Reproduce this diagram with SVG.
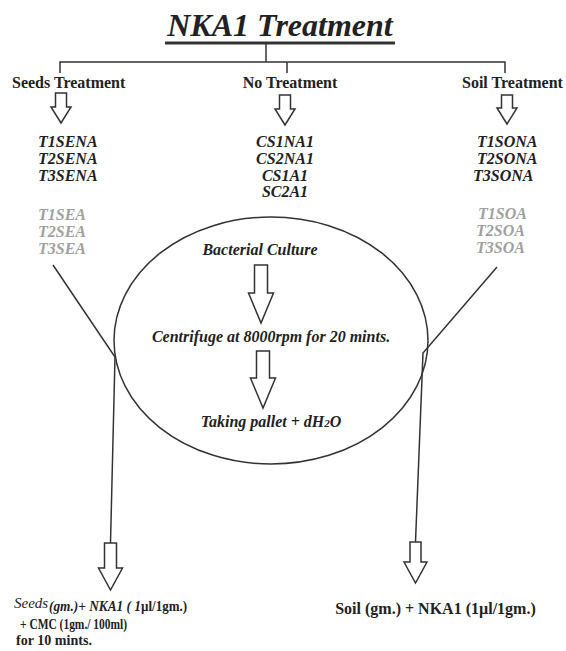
<svg xmlns="http://www.w3.org/2000/svg" width="566" height="651" viewBox="0 0 566 651">
<style>
  .t { font-family: "Liberation Serif", "Times New Roman", serif; fill: #222; }
  .bi { font-weight: bold; font-style: italic; }
  .b { font-weight: bold; }
  .g { fill: #a0a0a0; }
  .ln { stroke: #333; stroke-width: 1.5; fill: none; }
  .ar { stroke: #333; stroke-width: 1.5; fill: #fff; stroke-linejoin: miter; }
</style>
<rect width="566" height="651" fill="#fff"/>

<g id="title">
  <text class="t bi" x="280" y="36" font-size="32" text-anchor="middle">NKA1 Treatment</text>
  <line x1="165" y1="43" x2="395" y2="43" stroke="#333" stroke-width="3"/>
</g>

<g id="connectors">
  <polyline class="ln" points="266,44 266,62"/>
  <polyline class="ln" points="60,73 60,62 505,62 505,73"/>
  <line class="ln" x1="287" y1="62" x2="287" y2="73"/>
  <polyline class="ln" points="53,265 115,357 110.5,543"/>
  <polyline class="ln" points="497,267 423,353 415.5,542"/>
  <polygon class="ar" points="55.5,93 66.5,93 66.5,107 71,107 61,123 51,107 55.5,107"/>
  <polygon class="ar" points="279.5,95 290.5,95 290.5,109 295,109 285,125 275,109 279.5,109"/>
  <polygon class="ar" points="501.5,95 512.5,95 512.5,108 517,108 507,124 497,108 501.5,108"/>
  <polygon class="ar" points="254.5,265 267.5,265 267.5,293 273.5,293 261,323 248.5,293 254.5,293"/>
  <polygon class="ar" points="256.5,351 269.5,351 269.5,378 275.5,378 263,408 250.5,378 256.5,378"/>
  <polygon class="ar" points="104.5,543 116.5,543 116.5,568 122.5,568 110.5,590 98.5,568 104.5,568"/>
  <polygon class="ar" points="410,542 421,542 421,562 427,562 415.5,583 404,562 410,562"/>
</g>

<g id="seeds-treatment">
  <text class="t b" x="12" y="88" font-size="16">Seeds Treatment</text>
  <text class="t bi" x="38" y="147" font-size="16">T1SENA</text>
  <text class="t bi" x="38" y="164" font-size="16">T2SENA</text>
  <text class="t bi" x="38" y="181" font-size="16">T3SENA</text>
  <text class="t bi g" x="38" y="220" font-size="16">T1SEA</text>
  <text class="t bi g" x="38" y="237" font-size="16">T2SEA</text>
  <text class="t bi g" x="38" y="254" font-size="16">T3SEA</text>
</g>

<g id="no-treatment">
  <text class="t b" x="290" y="88" font-size="16" text-anchor="middle">No Treatment</text>
  <text class="t bi" x="285" y="147" font-size="16" text-anchor="middle">CS1NA1</text>
  <text class="t bi" x="285" y="164" font-size="16" text-anchor="middle">CS2NA1</text>
  <text class="t bi" x="285" y="181" font-size="16" text-anchor="middle">CS1A1</text>
  <text class="t bi" x="285" y="197" font-size="16" text-anchor="middle">SC2A1</text>
</g>

<g id="soil-treatment">
  <text class="t b" x="462" y="88" font-size="16">Soil Treatment</text>
  <text class="t bi" x="477" y="147" font-size="16">T1SONA</text>
  <text class="t bi" x="477" y="164" font-size="16">T2SONA</text>
  <text class="t bi" x="473" y="181" font-size="16">T3SONA</text>
  <text class="t bi g" x="478" y="219" font-size="16">T1SOA</text>
  <text class="t bi g" x="476" y="236" font-size="16">T2SOA</text>
  <text class="t bi g" x="476" y="253" font-size="16">T3SOA</text>
</g>

<g id="bacterial-culture">
  <ellipse class="ln" cx="271" cy="340.5" rx="157" ry="123.5"/>
  <text class="t bi" x="260" y="255" font-size="16" text-anchor="middle">Bacterial Culture</text>
  <text class="t bi" x="271" y="342" font-size="16" text-anchor="middle">Centrifuge at 8000rpm for 20 mints.</text>
  <text class="t bi" x="271" y="427" font-size="16" text-anchor="middle">Taking pallet + dH<tspan font-size="11">2</tspan>O</text>
</g>

<g id="seeds-result">
  <text class="t" x="14" y="608" font-size="15" font-style="italic">Seeds</text>
  <text class="t bi" x="49" y="611" font-size="14" textLength="92" lengthAdjust="spacingAndGlyphs">(gm.)+ NKA1 ( 1</text>
  <text class="t b" x="141" y="611" font-size="14" textLength="46" lengthAdjust="spacingAndGlyphs">µl/1gm.)</text>
  <text class="t b" x="20" y="629" font-size="15" textLength="107" lengthAdjust="spacingAndGlyphs">+ CMC (1gm./ 100ml)</text>
  <text class="t b" x="16" y="645" font-size="15" textLength="76" lengthAdjust="spacingAndGlyphs">for 10 mints.</text>
</g>

<g id="soil-result">
  <text class="t b" x="435.5" y="614" font-size="16" text-anchor="middle">Soil (gm.) + NKA1 (1µl/1gm.)</text>
</g>
</svg>
